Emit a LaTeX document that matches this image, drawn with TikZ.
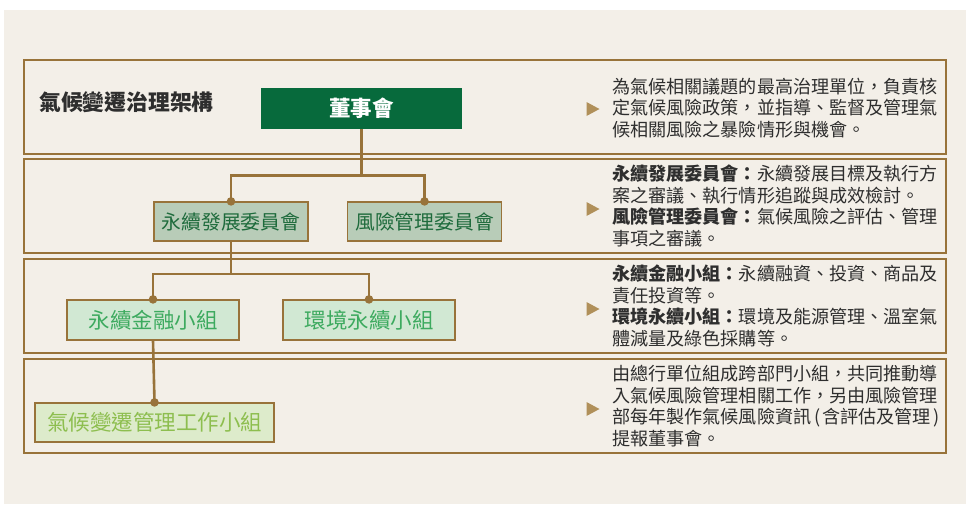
\documentclass[tikz,border=0pt]{standalone}
\usepackage{fontspec}
\setmainfont{Noto Sans CJK TC}
\usetikzlibrary{positioning}

\definecolor{bgc}{HTML}{F3EFE8}
\definecolor{rim}{HTML}{98733A}
\definecolor{boardc}{HTML}{076A3C}
\definecolor{comfill}{HTML}{B8CCB8}
\definecolor{comtext}{HTML}{1E6B3C}
\definecolor{grpfill}{HTML}{D1E8D3}
\definecolor{grptext}{HTML}{3DAA5F}
\definecolor{wrkfill}{HTML}{DDEBCB}
\definecolor{wrktext}{HTML}{8DBE4F}
\definecolor{pointc}{HTML}{B0905A}
\definecolor{txt}{HTML}{2E2E2E}

\begin{document}
\begin{tikzpicture}[x=1pt, y=-1pt,
    band/.style={draw=rim, line width=1.5pt},
    board/.style={rectangle, fill=boardc, text=white, inner sep=0pt,
                  minimum width=201pt, minimum height=41pt,
                  font=\fontsize{21.5}{24}\selectfont\bfseries},
    committee/.style={rectangle, draw=rim, line width=1.2pt, fill=comfill,
                      text=comtext, inner sep=0pt, minimum width=154pt,
                      minimum height=39pt, font=\fontsize{19.8}{22}\selectfont},
    group/.style={rectangle, draw=rim, line width=1.2pt, fill=grpfill,
                  text=grptext, inner sep=0pt, minimum width=172pt,
                  minimum height=40pt, font=\fontsize{21.5}{24}\selectfont},
    worker/.style={rectangle, draw=rim, line width=1.2pt, fill=wrkfill,
                   text=wrktext, inner sep=0pt, minimum width=239pt,
                   minimum height=39pt, font=\fontsize{21.5}{24}\selectfont},
    note/.style={anchor=west, align=left, inner sep=0pt, text=txt,
                 font=\fontsize{18.1}{21.8}\selectfont},
    link/.style={draw=rim, line width=2.6pt},
    pointer/.style={fill=pointc}
]
  \useasboundingbox (0,0) rectangle (979,507);
  \fill[bgc] (4,10) rectangle (966,504);

  % bands
  \draw[band] (24,60) rectangle (946,154);
  \draw[band] (24,159) rectangle (946,253);
  \draw[band] (24,259) rectangle (946,353);
  \draw[band] (24,359) rectangle (946,453);

  % title
  \node[anchor=west, inner sep=0pt, text=txt,
        font=\fontsize{21.8}{24}\selectfont\bfseries] (title) at (39,102) {氣候變遷治理架構};

  % boxes
  \node[board] (bod) at (361.5,108.5) {董事會};
  \node[committee] (sdc) at (231,221.5) {永續發展委員會};
  \node[committee] (rmc) at (424.5,221.5) {風險管理委員會};
  \node[group] (sfg) at (153,320) {永續金融小組};
  \node[group] (eng) at (369,320) {環境永續小組};
  \node[worker] (cwg) at (154.5,422.5) {氣候變遷管理工作小組};

  % links
  \draw[link] (bod.south) -- ++(0,46) -| (sdc.north);
  \draw[link] (bod.south) ++(0,46) -| (rmc.north);
  \draw[link] (sdc.south) -- ++(0,32.5) -| (sfg.north);
  \draw[link] (sdc.south) ++(0,32.5) -| (eng.north);
  \draw[link] (sfg.south) -- (cwg.north);
  \foreach \n in {sdc,rmc,sfg,eng,cwg}
    \fill[rim] (\n.north) circle (4.3pt);

  % notes
  \foreach \y in {109,209,309,409}
    \fill[pointer] (586.5,\y-7) -- (599.5,\y) -- (586.5,\y+7) -- cycle;
  \node[note] (n1) at (612,108) {為氣候相關議題的最高治理單位，負責核\\
    定氣候風險政策，並指導、監督及管理氣\\
    候相關風險之暴險情形與機會。};
  \node[note] (n2) at (612,206) {\textbf{永續發展委員會：}永續發展目標及執行方\\
    案之審議、執行情形追蹤與成效檢討。\\
    \textbf{風險管理委員會：}氣候風險之評估、管理\\
    事項之審議。};
  \node[note] (n3) at (612,306) {\textbf{永續金融小組：}永續融資、投資、商品及\\
    責任投資等。\\
    \textbf{環境永續小組：}環境及能源管理、溫室氣\\
    體減量及綠色採購等。};
  \node[note] (n4) at (612,406) {由總行單位組成跨部門小組，共同推動導\\
    入氣候風險管理相關工作，另由風險管理\\
    部每年製作氣候風險資訊\kern3pt(\kern2pt含評估及管理\kern2pt)\\
    提報董事會。};
\end{tikzpicture}
\end{document}
